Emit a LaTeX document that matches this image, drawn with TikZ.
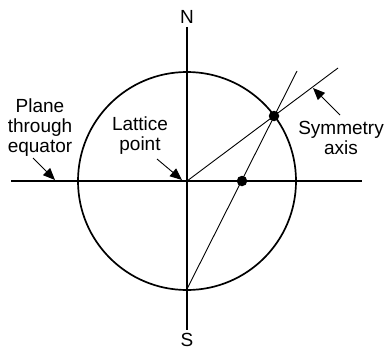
\documentclass[tikz,border=0pt]{standalone}
\usepackage{fontspec}
\setmainfont{Liberation Sans}
\usetikzlibrary{arrows.meta}
\begin{document}
\begin{tikzpicture}[x=1pt,y=-1pt,
  thick line/.style={line width=1.7pt},
  thin line/.style={line width=0.9pt},
  pointer/.style={line width=0.9pt,-{Triangle[length=12pt,width=10pt]}},
  lbl/.style={font=\fontsize{19}{20}\selectfont,align=center,inner sep=0pt},
  dot/.style={circle,fill=black,inner sep=0pt,minimum size=10.5pt}]
\useasboundingbox (0,0) rectangle (387,350);
\coordinate (O) at (187,181);
\coordinate (Ntop) at (187,27);
\coordinate (Sbot) at (187,330);
\coordinate (W) at (11,181);
\coordinate (E) at (362,181);
\coordinate (Sp) at (187,289);
\coordinate (P) at (274,116);
\coordinate (Q) at (242,181);
\coordinate (Aend) at (338,68);
\coordinate (Bend) at (297,71);
\draw[thick line] (O) circle (109);
\draw[thick line] (Ntop) -- (Sbot);
\draw[thick line] (W) -- (E);
\draw[thin line] (O) -- (Aend);
\draw[thin line] (Sp) -- (Bend);
\node[dot] (d1) at (P) {};
\node[dot] (d2) at (Q) {};
\node[lbl] (N) at (187,17) {N};
\node[lbl,anchor=north] (S) at (187,333) {S};
\node[lbl] (plane) at (40,128) {Plane\\through\\equator};
\node[lbl] (lattice) at (140,136) {Lattice\\point};
\node[lbl] (sym) at (341,138) {Symmetry\\axis};
\coordinate (a1s) at (33,158);
\coordinate (a1e) at (55,180);
\coordinate (a2s) at (157,159);
\coordinate (a2e) at (182,180);
\coordinate (a3s) at (340,115);
\coordinate (a3e) at (313,88);
\draw[pointer] (a1s) -- (a1e);
\draw[pointer] (a2s) -- (a2e);
\draw[pointer] (a3s) -- (a3e);
\end{tikzpicture}
\end{document}
